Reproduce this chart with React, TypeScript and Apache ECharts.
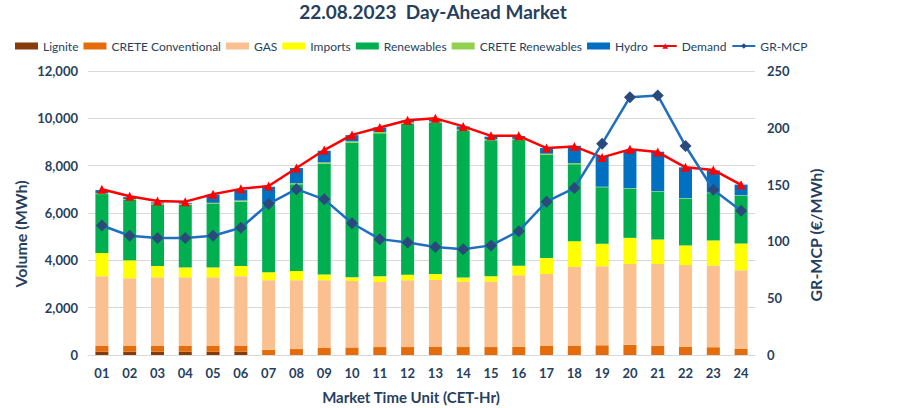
import React, { useEffect, useRef } from "react";
import * as echarts from "echarts";

const hours = ["01","02","03","04","05","06","07","08","09","10","11","12","13","14","15","16","17","18","19","20","21","22","23","24"];
const lignite = [140,140,140,140,140,140,0,0,0,0,0,0,0,0,0,0,0,0,0,0,0,0,0,0];
const creteConventional = [240,240,240,240,240,240,220,250,300,320,335,335,340,335,335,340,380,400,410,430,400,350,330,270];
const gas = [2950,2860,2900,2900,2900,2950,2940,2910,2860,2810,2750,2820,2830,2770,2770,3030,3045,3320,3340,3410,3440,3450,3450,3310];
const imports = [980,760,480,420,420,430,340,390,240,150,240,240,250,170,220,400,670,1090,950,1110,1040,830,1060,1130];
const renewables = [2490,2550,2600,2650,2680,2720,2840,3660,4680,5690,6040,6380,6400,6190,5750,5310,4360,3250,2390,2080,2020,1980,2000,2020];
const creteRenewables = [40,40,40,40,50,50,40,50,60,60,60,50,50,60,50,50,50,50,20,20,20,20,20,20];
const hydro = [130,80,50,40,340,440,730,640,490,260,190,70,80,130,100,120,240,730,1280,1610,1670,1300,940,450];
const demand = [7000,6710,6510,6480,6790,7020,7140,7900,8660,9300,9615,9920,10000,9660,9260,9260,8745,8815,8350,8690,8575,7930,7820,7190];
const grMcp = [114,105,103,103,105,112,133,146,137,116,102,99,95,93,96.5,109,135,147,186,227,228.5,184,145.5,127];

const TEXT = "#263f5e";
const FONT = "Lato, 'DejaVu Sans', sans-serif";

export default function App() {
  const ref = useRef<HTMLDivElement>(null);
  useEffect(() => {
    if (!ref.current) return;
    const chart = echarts.init(ref.current, undefined, { renderer: "svg" });
    const barSeries = (name: string, data: number[], color: string) => ({
      name,
      type: "bar",
      stack: "vol",
      data,
      barWidth: 13,
      itemStyle: { color },
      yAxisIndex: 0,
    });
    const barNames = ["Lignite","CRETE Conventional","GAS","Imports","Renewables","CRETE Renewables","Hydro"];
    chart.setOption({
      animation: false,
      textStyle: { fontFamily: FONT },
      title: {
        text: "22.08.2023  Day-Ahead Market",
        left: 433,
        textAlign: "center",
        top: 2,
        padding: 0,
        textStyle: { fontFamily: FONT, fontSize: 19, fontWeight: "bold", color: TEXT },
      },
      legend: {
        left: 10,
        top: 35,
        itemWidth: 23,
        itemHeight: 7,
        itemGap: 5,
        textStyle: { fontFamily: FONT, fontSize: 12, color: TEXT },
        data: [
          ...barNames.map((n) => ({ name: n, icon: "rect" })),
          { name: "Demand" },
          { name: "GR-MCP" },
        ],
      },
      grid: { left: 88, right: 160, top: 71, bottom: 53, containLabel: false },
      xAxis: {
        type: "category",
        data: hours,
        axisLine: { lineStyle: { color: "#d9d9d9" } },
        axisTick: { show: false },
        axisLabel: { color: TEXT, fontWeight: "bold", fontSize: 13, fontFamily: FONT, margin: 11 },
      },
      yAxis: [
        {
          type: "value",
          min: 0,
          max: 12000,
          interval: 2000,
          axisLine: { show: false },
          axisTick: { show: false },
          splitLine: { lineStyle: { color: "#d9d9d9" } },
          axisLabel: {
            color: TEXT,
            fontWeight: "bold",
            fontSize: 13,
            fontFamily: FONT,
            margin: 10,
            formatter: (v: number) => v.toLocaleString("en-US"),
          },
        },
        {
          type: "value",
          min: 0,
          max: 250,
          interval: 50,
          axisLine: { show: false },
          axisTick: { show: false },
          splitLine: { show: false },
          axisLabel: { color: TEXT, fontWeight: "bold", fontSize: 13, fontFamily: FONT, margin: 12 },
        },
      ],
      series: [
        barSeries("Lignite", lignite, "#843c0c"),
        barSeries("CRETE Conventional", creteConventional, "#e46c0a"),
        barSeries("GAS", gas, "#fac090"),
        barSeries("Imports", imports, "#ffff00"),
        barSeries("Renewables", renewables, "#00b050"),
        barSeries("CRETE Renewables", creteRenewables, "#92d050"),
        barSeries("Hydro", hydro, "#0070c0"),
        {
          name: "Demand",
          type: "line",
          data: demand,
          yAxisIndex: 0,
          symbol: "triangle",
          symbolSize: 9,
          lineStyle: { color: "#ff0000", width: 2.5 },
          itemStyle: { color: "#ff0000" },
          z: 5,
        },
        {
          name: "GR-MCP",
          type: "line",
          data: grMcp,
          yAxisIndex: 1,
          symbol: "diamond",
          symbolSize: 12,
          lineStyle: { color: "#1f6fbf", width: 2.5 },
          itemStyle: { color: "#2a4a7b" },
          z: 6,
        },
      ],
      graphic: [
        {
          type: "text",
          x: 20,
          y: 234,
          rotation: Math.PI / 2,
          style: {
            text: "Volume (MWh)",
            font: `bold 16px ${FONT}`,
            fill: TEXT,
            textAlign: "center",
            textVerticalAlign: "middle",
          },
        },
        {
          type: "text",
          x: 815,
          y: 235,
          rotation: Math.PI / 2,
          style: {
            text: "GR-MCP (€/MWh)",
            font: `bold 16px ${FONT}`,
            fill: TEXT,
            textAlign: "center",
            textVerticalAlign: "middle",
          },
        },
        {
          type: "text",
          x: 411,
          y: 397,
          style: {
            text: "Market Time Unit (CET-Hr)",
            font: `bold 15px ${FONT}`,
            fill: TEXT,
            textAlign: "center",
            textVerticalAlign: "middle",
          },
        },
      ],
    });
    return () => chart.dispose();
  }, []);
  return (
    <div
      ref={ref}
      style={{ position: "fixed", left: 0, top: 0, width: 915, height: 408, background: "#fff" }}
    />
  );
}
